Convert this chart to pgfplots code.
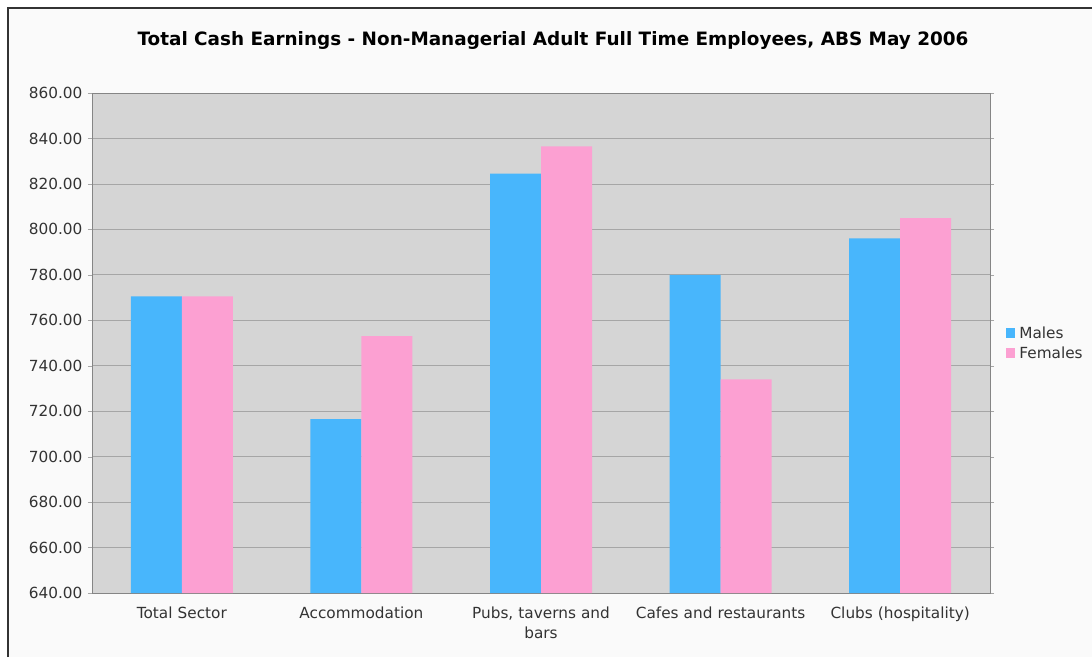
\documentclass[border=0pt]{standalone}
\usepackage{fontspec}
\setmainfont{DejaVu Sans}
\usepackage{pgfplots}
\pgfplotsset{compat=1.18}
\definecolor{males}{HTML}{48B6FC}
\definecolor{females}{HTML}{FCA0D2}
\definecolor{plotbg}{HTML}{D5D5D5}
\definecolor{gridc}{HTML}{A6A6A6}
\definecolor{ink}{HTML}{333333}

\begin{document}
\begin{tikzpicture}[x=1pt,y=1pt]
\path[use as bounding box, fill=white] (0,0) rectangle (1092,657);
\fill[gray!4] (8,0) rectangle (1092,649);
\draw[ink, line width=2.5pt] (8,0) -- (8,649) -- (1092,649);
\node[font=\fontsize{18.4}{21}\selectfont\bfseries, text=black] at (553,617)
  {Total Cash Earnings - Non-Managerial Adult Full Time Employees, ABS May 2006};
\begin{axis}[
  at={(92pt,64pt)}, anchor=south west,
  scale only axis, width=898pt, height=500pt,
  ymin=640, ymax=860, ytick distance=20,
  xmin=-0.5, xmax=4.5,
  xtick={0,1,2,3,4}, xticklabels={Total Sector, Accommodation, {Pubs, taverns and\\bars}, Cafes and restaurants, Clubs (hospitality)},
  xticklabel style={align=center, text width=185pt, font=\fontsize{15.3}{20}\selectfont, text=ink, yshift=-6pt},
  x tick style={draw=none},
  yticklabel style={font=\fontsize{15.3}{18}\selectfont, text=ink, xshift=-2pt, /pgf/number format/.cd, fixed, fixed zerofill, precision=2, 1000 sep={}},
  /pgf/number format/assume math mode=true,
  y tick style={gridc},
  major tick length=4pt,
  tick align=outside,
  axis background/.style={fill=plotbg},
  axis line style={gridc!80!black},
  ymajorgrids, grid style={gridc, line width=0.8pt},
  ybar=0pt, bar width=51pt,
  legend cell align=left,
  legend style={at={(1.018,0.50)}, anchor=west, draw=none, fill=none,
    font=\fontsize{15.3}{18}\selectfont, text=ink, row sep=3pt, inner sep=0pt,
    /tikz/every odd column/.append style={column sep=2pt}},
  legend image code/.code={\fill[#1] (0pt,-5pt) rectangle (9pt,5pt);},
]
\addplot[fill=males, draw=none] coordinates {(0,770.5) (1,716.5) (2,824.5) (3,780) (4,796)};
\addlegendentry{Males}
\addplot[fill=females, draw=none] coordinates {(0,770.5) (1,753) (2,836.5) (3,734) (4,805)};
\addlegendentry{Females}
\end{axis}
\end{tikzpicture}
\end{document}
